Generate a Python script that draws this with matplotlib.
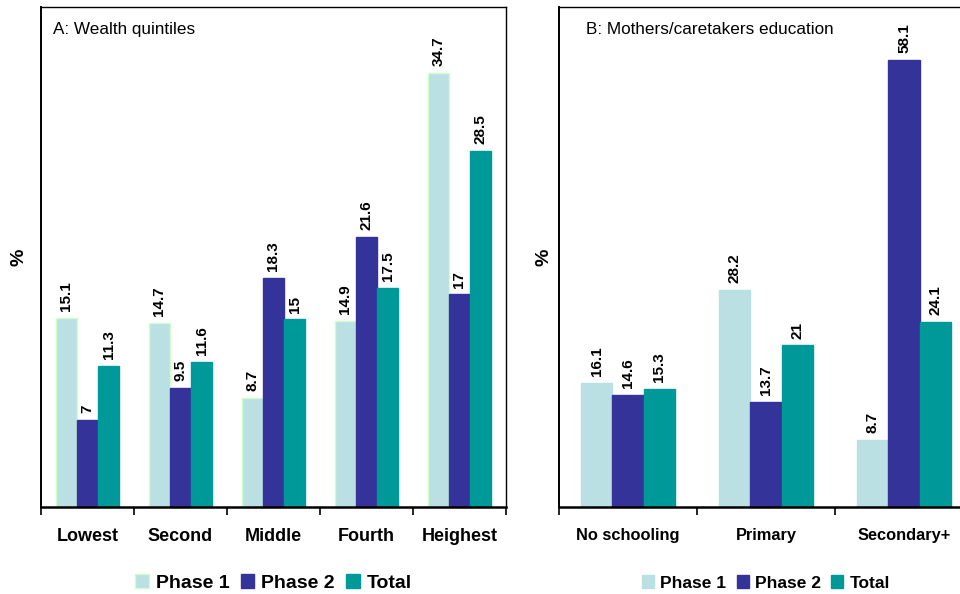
import matplotlib
matplotlib.use("Agg")
import matplotlib.pyplot as plt
from matplotlib.ticker import FixedLocator, NullFormatter
from matplotlib.patches import Patch
import numpy as np

plt.rcParams['font.family'] = ['Liberation Sans', 'DejaVu Sans']

# Panel A: wealth quintiles
wealth_cats = ["Lowest", "Second", "Middle", "Fourth", "Heighest"]
wealth_phase1 = [15.1, 14.7, 8.7, 14.9, 34.7]
wealth_phase2 = [7, 9.5, 18.3, 21.6, 17]
wealth_total = [11.3, 11.6, 15, 17.5, 28.5]

# Panel B: mothers/caretakers education
edu_cats = ["No schooling", "Primary", "Secondary+"]
edu_phase1 = [16.1, 28.2, 8.7]
edu_phase2 = [14.6, 13.7, 58.1]
edu_total = [15.3, 21, 24.1]

series_names = ["Phase 1", "Phase 2", "Total"]
colors = ["#BBE0E3", "#333399", "#009999"]

fig = plt.figure(figsize=(9.6, 5.94), dpi=100)

ax_a = fig.add_axes([41/960, 87/594, 465/960, 500/594])
ax_b = fig.add_axes([559/960, 87/594, 414/960, 500/594])


def fmt(v):
    return f"{v:g}"


def draw_panel(ax, cats, series, ymax, title, title_x, p1_edge,
               tick_size, legend_size, ylabel_pad):
    n = len(cats)
    x = np.arange(n)
    w = 0.226
    for i, vals in enumerate(series):
        offs = (i - 1) * w
        edge = p1_edge if i == 0 else colors[i]
        bars = ax.bar(x + offs, vals, width=w, color=colors[i],
                      edgecolor=edge, linewidth=1.0, zorder=2)
        for b, v in zip(bars, vals):
            ax.annotate(fmt(v), (b.get_x() + b.get_width() / 2, b.get_height()),
                        xytext=(0, 5), textcoords="offset points",
                        rotation=90, ha="center", va="bottom",
                        fontsize=11, fontweight="bold")
    ax.set_xlim(-0.5, n - 0.5)
    ax.set_ylim(0, ymax)
    ax.set_yticks([])
    ax.xaxis.set_major_locator(FixedLocator(np.arange(n + 1) - 0.5))
    ax.xaxis.set_major_formatter(NullFormatter())
    ax.xaxis.set_minor_locator(FixedLocator(x))
    ax.set_xticklabels(cats, minor=True, fontsize=tick_size, fontweight="bold")
    ax.tick_params(axis="x", which="major", length=6, width=1.2, direction="out")
    ax.tick_params(axis="x", which="minor", length=0, pad=15)
    for s in ax.spines.values():
        s.set_linewidth(1.0)
    ax.spines["bottom"].set_linewidth(1.8)
    ax.spines["left"].set_linewidth(1.4)
    ax.set_ylabel("%", fontsize=14, fontweight="bold", labelpad=ylabel_pad)
    ax.text(title_x, 0.955, title, transform=ax.transAxes, fontsize=12.3,
            ha="left", va="center")
    handles = [Patch(facecolor=colors[i],
                     edgecolor=(p1_edge if i == 0 else colors[i]), label=series_names[i])
               for i in range(3)]
    ax.legend(handles=handles, loc="center", bbox_to_anchor=(0.5, -0.152),
              ncol=3, frameon=False, handlelength=0.7, handleheight=0.7,
              handletextpad=0.35, columnspacing=0.6,
              prop={"size": legend_size, "weight": "bold"})


draw_panel(ax_a, wealth_cats, [wealth_phase1, wealth_phase2, wealth_total],
           40, "A: Wealth quintiles", 0.026, "#CCFFCC",
           tick_size=13, legend_size=14, ylabel_pad=10)
draw_panel(ax_b, edu_cats, [edu_phase1, edu_phase2, edu_total],
           65, "B: Mothers/caretakers education", 0.065, colors[0],
           tick_size=11.8, legend_size=12.5, ylabel_pad=5)

fig.savefig("out.png", dpi=100)
